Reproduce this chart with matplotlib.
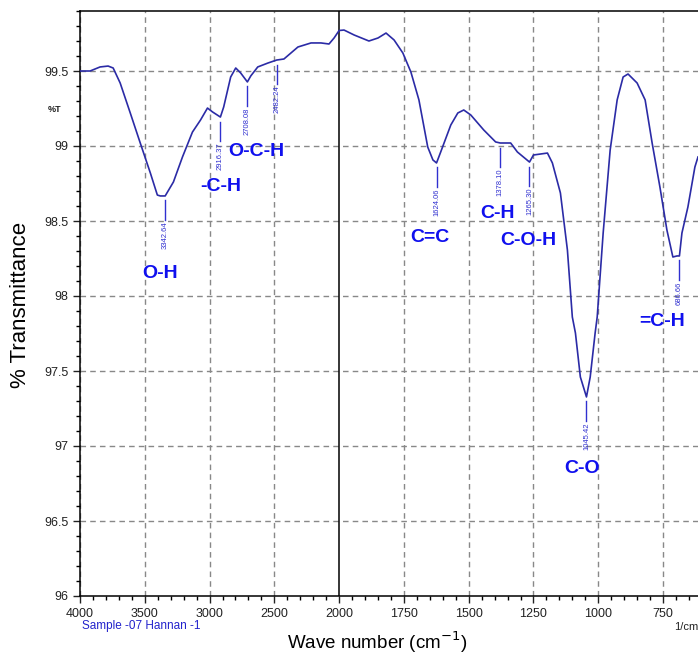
#!/usr/bin/env python3

import matplotlib
matplotlib.use("Agg")
import matplotlib.pyplot as plt
import numpy as np

plt.rcParams['font.family'] = ['Liberation Sans', 'DejaVu Sans']

# spectrum (wavenumber, %T)
wavenumber = [4000, 3922, 3845, 3783, 3744, 3690, 3612, 3535, 3457, 3403, 3380, 3342.64,
              3279, 3209, 3132, 3070, 3016, 2977, 2916.37, 2891, 2837, 2798, 2760, 2708.08,
              2682, 2628, 2550, 2482.24, 2426, 2318, 2217, 2140, 2078, 2039, 2000, 1981,
              1942, 1885, 1850, 1819, 1788, 1754, 1723, 1692, 1658, 1638, 1624.06, 1608,
              1569, 1542, 1519, 1492, 1442, 1396, 1378.10, 1338, 1312, 1265.30, 1250, 1196,
              1177, 1146, 1119, 1100, 1088, 1069, 1045.42, 1031, 1012, 1004, 981, 954,
              927, 904, 885, 850, 819, 792, 762, 735, 712, 696, 686.66, 677, 654, 627, 615]
transmittance = [99.50, 99.50, 99.527, 99.533, 99.52, 99.42, 99.22, 99.02, 98.82, 98.673, 98.667, 98.667,
                 98.76, 98.927, 99.093, 99.173, 99.253, 99.227, 99.193, 99.26, 99.46, 99.52, 99.487, 99.427,
                 99.467, 99.527, 99.553, 99.573, 99.58, 99.66, 99.687, 99.687, 99.68, 99.72, 99.77, 99.773,
                 99.74, 99.70, 99.72, 99.753, 99.707, 99.62, 99.493, 99.307, 98.993, 98.907, 98.887, 98.96,
                 99.14, 99.22, 99.24, 99.207, 99.107, 99.027, 99.02, 99.02, 98.96, 98.893, 98.94, 98.953,
                 98.887, 98.687, 98.307, 97.86, 97.753, 97.46, 97.327, 97.46, 97.753, 97.86, 98.42, 98.973,
                 99.307, 99.46, 99.48, 99.42, 99.307, 99.02, 98.727, 98.44, 98.26, 98.267, 98.267, 98.42, 98.593, 98.86, 98.927]

peak_wn = [3342.64, 2916.37, 2708.08, 2482.24, 1624.06, 1378.10, 1265.30, 1045.42, 686.66]
peak_t = [98.667, 99.193, 99.427, 99.573, 98.887, 99.02, 98.893, 97.327, 98.267]

group_names = ["O-H", "-C-H", "O-C-H", "C=C", "C-H", "C-O-H", "C-O", "=C-H"]
group_wn = [3380, 2915, 2643, 1650, 1388, 1269, 1062, 754]
group_t = [98.153, 98.727, 98.96, 98.393, 98.553, 98.367, 96.85, 97.827]

x_major = [4000, 3500, 3000, 2500, 2000, 1750, 1500, 1250, 1000, 750]


# the instrument plot switches scale at 2000 1/cm
def fwd(x):
    x = np.asarray(x, dtype=float)
    return np.where(x >= 2000, (x - 2000) / 500.0, (x - 2000) / 250.0)


def inv(u):
    u = np.asarray(u, dtype=float)
    return np.where(u >= 0, 2000 + 500.0 * u, 2000 + 250.0 * u)


fig = plt.figure(figsize=(6.98, 6.55), dpi=100)
ax = fig.add_axes([80 / 698, 59 / 655, 618 / 698, 585 / 655])
ax.set_xscale('function', functions=(fwd, inv))
ax.set_xlim(4000, 615)
ax.set_ylim(96, 99.9)

ax.plot(wavenumber, transmittance, color='#2b2ba6', lw=1.2, zorder=3)

minor_x = list(range(3900, 2000, -100)) + list(range(1950, 600, -50))
ax.set_xticks(x_major)
ax.set_xticks(minor_x, minor=True)
ax.set_yticks(np.arange(96, 99.51, 0.5))
ax.set_yticks(np.arange(96, 99.9, 0.1), minor=True)
ax.set_yticklabels(["96", "96.5", "97", "97.5", "98", "98.5", "99", "99.5"])
ax.tick_params(axis='both', which='major', labelsize=9, colors='#222222', length=5, width=1)
ax.tick_params(axis='both', which='minor', length=3, width=1)

for xv in x_major:
    if xv == 2000:
        ax.axvline(xv, color='black', lw=1.1, zorder=2)
    else:
        ax.axvline(xv, color='#888888', lw=1, ls=(0, (4, 3)), zorder=1)
for yv in np.arange(96.5, 99.51, 0.5):
    ax.axhline(yv, color='#888888', lw=1, ls=(0, (4, 3)), zorder=1)

ax.spines['right'].set_visible(False)
for s in ['left', 'bottom', 'top']:
    ax.spines[s].set_linewidth(1.1)

# peak markers
for w, tv in zip(peak_wn, peak_t):
    ax.plot([w, w], [tv - 0.03, tv - 0.16], color='#3030d0', lw=1, zorder=3)
    ax.text(w, tv - 0.17, "%.2f" % w, rotation=90, ha='center', va='top',
            fontsize=5.5, color='#3030d0')

for name, w, tv in zip(group_names, group_wn, group_t):
    ax.text(w, tv, name, ha='center', va='center', fontsize=14,
            fontweight='bold', color='#1010ee')

fig.text(55 / 698, 1 - 110 / 655, "%T", ha='center', va='center', fontsize=6.5,
         fontweight='bold', color='#222222')
fig.text(21 / 698, 1 - 305 / 655, "% Transmittance", rotation=90, ha='center',
         va='center', fontsize=16)
fig.text(377 / 698, 1 - 649 / 655, "Wave number (cm$^{-1}$)", ha='center',
         va='baseline', fontsize=13.5)
fig.text(82 / 698, 1 - 626 / 655, "Sample -07 Hannan -1", ha='left', va='center',
         fontsize=8.5, color='#2222cc')
fig.text(674 / 698, 1 - 627 / 655, "1/cm", ha='left', va='center', fontsize=8,
         color='#222222')

fig.savefig("out.png", dpi=100)
